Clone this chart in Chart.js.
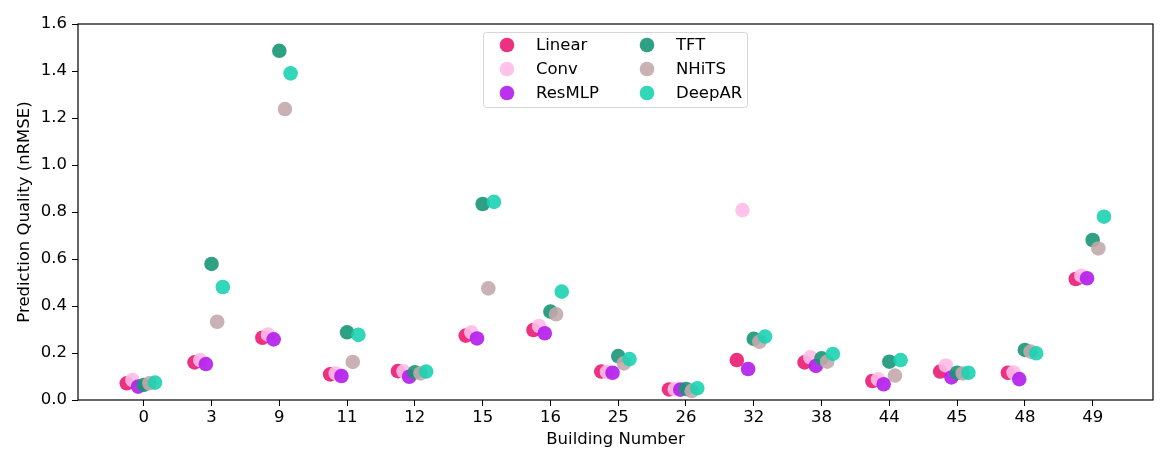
<!DOCTYPE html>
<html>
<head>
<meta charset="utf-8">
<script src="https://cdn.jsdelivr.net/npm/chart.js@4.4.1/dist/chart.umd.min.js"></script>
<style>
  html, body { margin: 0; padding: 0; background: #fff; }
  #wrap { width: 1171px; height: 469px; }
</style>
</head>
<body>
<div id="wrap"><canvas id="c" width="1171" height="469"></canvas></div>
<script>
const buildings = ["0", "3", "9", "11", "12", "15", "16", "25", "26", "32", "38", "44", "45", "48", "49"];
const seriesNames = ["Linear", "Conv", "ResMLP", "TFT", "NHiTS", "DeepAR"];
const seriesColors = ["rgba(234,27,114,0.9)", "rgba(255,188,233,0.9)", "rgba(179,28,236,0.9)",
                      "rgba(24,150,117,0.9)", "rgba(195,168,172,0.9)", "rgba(28,209,176,0.9)"];

const linearVals = [0.071, 0.160, 0.265, 0.109, 0.123, 0.274, 0.298, 0.121, 0.045, 0.170, 0.160, 0.081, 0.121, 0.116, 0.515];
const convVals   = [0.085, 0.170, 0.278, 0.113, 0.122, 0.288, 0.315, 0.120, 0.046, 0.808, 0.182, 0.088, 0.147, 0.117, 0.529];
const resmlpVals = [0.057, 0.153, 0.258, 0.102, 0.099, 0.262, 0.284, 0.116, 0.044, 0.132, 0.145, 0.067, 0.096, 0.089, 0.518];
const tftVals    = [0.064, 0.579, 1.486, 0.288, 0.118, 0.834, 0.376, 0.187, 0.047, 0.260, 0.177, 0.163, 0.116, 0.213, 0.681];
const nhitsVals  = [0.071, 0.333, 1.238, 0.162, 0.113, 0.475, 0.365, 0.156, 0.038, 0.248, 0.163, 0.104, 0.113, 0.206, 0.645];
const deeparVals = [0.074, 0.481, 1.390, 0.277, 0.121, 0.843, 0.461, 0.174, 0.050, 0.270, 0.196, 0.170, 0.116, 0.199, 0.780];

const yTicks = [0.0, 0.2, 0.4, 0.6, 0.8, 1.0, 1.2, 1.4, 1.6];

const allVals = [linearVals, convVals, resmlpVals, tftVals, nhitsVals, deeparVals];
const nS = seriesNames.length;
const dodge = 0.5; // total dodge spread
function offsetFor(i) { return -0.25 + i * (dodge / nS); }

const datasets = seriesNames.map((name, i) => ({
  label: name,
  data: allVals[i].map((v, k) => ({ x: k + offsetFor(i), y: v })),
  backgroundColor: seriesColors[i],
  borderWidth: 0,
  pointRadius: 7.3,
  pointHoverRadius: 7.3,
  order: nS - i
}));

const FONT = "'DejaVu Sans', sans-serif";
const FS = 16.5;

const framePlugin = {
  id: 'frame',
  afterDatasetsDraw(chart) {
    const { ctx, chartArea: a } = chart;
    ctx.save();
    ctx.strokeStyle = '#000';
    ctx.lineWidth = 1.2;
    ctx.strokeRect(a.left, a.top, a.right - a.left, a.bottom - a.top);
    ctx.restore();
  }
};

const legendPlugin = {
  id: 'customLegend',
  afterDraw(chart) {
    const { ctx } = chart;
    const bx = 483.5, by = 32.5, bw = 264, bh = 75;
    ctx.save();
    ctx.fillStyle = 'rgba(255,255,255,0.8)';
    ctx.strokeStyle = '#d6d6d6';
    ctx.lineWidth = 1;
    ctx.beginPath();
    if (ctx.roundRect) ctx.roundRect(bx, by, bw, bh, 3); else ctx.rect(bx, by, bw, bh);
    ctx.fill();
    ctx.stroke();
    ctx.font = FS + "px " + FONT;
    ctx.textBaseline = 'middle';
    ctx.textAlign = 'left';
    seriesNames.forEach((name, i) => {
      const col = Math.floor(i / 3), row = i % 3;
      const mx = col === 0 ? 507 : 647;
      const ty = 45 + row * 24;
      ctx.fillStyle = seriesColors[i];
      ctx.beginPath();
      ctx.arc(mx, ty, 7.3, 0, Math.PI * 2);
      ctx.fill();
      ctx.fillStyle = '#000';
      ctx.fillText(name, mx + 29, ty + 1);
    });
    ctx.restore();
  }
};

new Chart(document.getElementById('c'), {
  type: 'scatter',
  data: { datasets },
  plugins: [framePlugin, legendPlugin],
  options: {
    responsive: false,
    animation: false,
    devicePixelRatio: 1,
    layout: { padding: { left: 0, right: 18, top: 24, bottom: 0 } },
    plugins: { legend: { display: false }, tooltip: { enabled: false } },
    scales: {
      x: {
        type: 'linear',
        min: -0.97,
        max: 14.89,
        afterBuildTicks(scale) { scale.ticks = buildings.map((b, k) => ({ value: k })); },
        afterFit(scale) { scale.height = 69; },
        ticks: {
          callback: (v) => buildings[v],
          color: '#000',
          font: { family: FONT, size: FS },
          padding: 2,
          maxRotation: 0,
          autoSkip: false
        },
        grid: { drawOnChartArea: false, drawTicks: true, tickLength: 6, color: '#000' },
        border: { display: false },
        title: {
          display: true,
          text: 'Building Number',
          color: '#000',
          font: { family: FONT, size: FS },
          padding: { top: 2, bottom: 19 }
        }
      },
      y: {
        min: 0,
        max: 1.6,
        afterBuildTicks(scale) { scale.ticks = yTicks.map(v => ({ value: v })); },
        afterFit(scale) { scale.width = 78; },
        ticks: {
          callback: (v) => Number(v).toFixed(1),
          color: '#000',
          font: { family: FONT, size: FS },
          padding: 5
        },
        grid: { drawOnChartArea: false, drawTicks: true, tickLength: 6, color: '#000' },
        border: { display: false },
        title: {
          display: true,
          text: 'Prediction Quality (nRMSE)',
          color: '#000',
          font: { family: FONT, size: FS },
          padding: { top: 15, bottom: 0 }
        }
      }
    }
  }
});
</script>
</body>
</html>
